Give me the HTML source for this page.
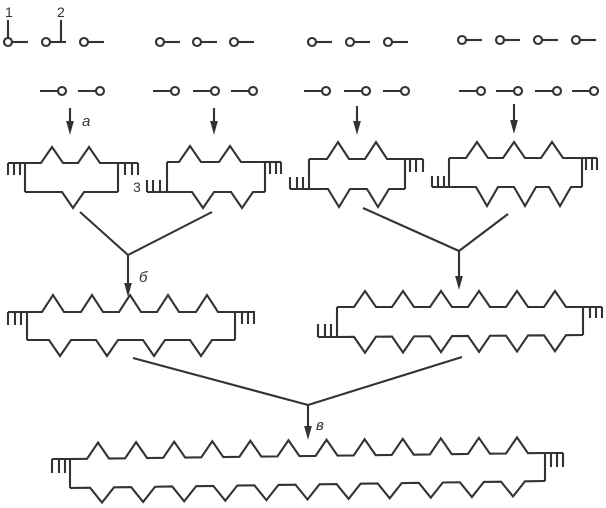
<!DOCTYPE html>
<html><head><meta charset="utf-8"><style>
html,body{margin:0;padding:0;background:#fff;}
svg{display:block;}
text{font-family:"Liberation Sans",sans-serif;fill:#333;}
</style></head><body>
<svg id="s" width="606" height="508" viewBox="0 0 606 508" xmlns="http://www.w3.org/2000/svg">
<g id="g" fill="none" stroke="#333" stroke-width="2.1" stroke-linejoin="miter"></g>
<text x="5" y="17" font-size="14">1</text>
<text x="57" y="17" font-size="14">2</text>
<text x="133" y="192" font-size="14">3</text>
<text x="82" y="126" font-size="15" font-style="italic">а</text>
<text x="139" y="282" font-size="15" font-style="italic">б</text>
<text x="316" y="430" font-size="15" font-style="italic">в</text>
</svg>
<script>
var g=document.getElementById('g');var NS='http://www.w3.org/2000/svg';
function el(t,a){var e=document.createElementNS(NS,t);for(var k in a)e.setAttribute(k,a[k]);g.appendChild(e);return e;}
function line(x1,y1,x2,y2){el('line',{x1:x1,y1:y1,x2:x2,y2:y2});}
function poly(p){el('polyline',{points:p.map(function(q){return q[0]+','+q[1]}).join(' ')});}
function zig(x0,y0,x1,y1,teeth,h,hw){var p=[[x0,y0]];function yb(x){return y0+(y1-y0)*(x-x0)/(x1-x0);}
teeth.forEach(function(t){p.push([t-hw,yb(t-hw)]);p.push([t,yb(t)+h]);p.push([t+hw,yb(t+hw)]);});p.push([x1,y1]);poly(p);}
function comb(x0,x1,y,tx,dy){line(x0,y,x1,y);tx.forEach(function(x){line(x,y,x,y+dy);});}
function arrow(x,y1,y2){line(x,y1,x,y2-6);var e=el('polygon',{points:(x-2.5)+','+(y2-9)+' '+(x+2.5)+','+(y2-9)+' '+x+','+y2,fill:'#333'});}
function dumbR(x,y){el('circle',{cx:x,cy:y,r:4,fill:'#fff'});line(x+4,y,x+20,y);}
function dumbL(x,y){el('circle',{cx:x,cy:y,r:4,fill:'#fff'});line(x-4,y,x-22,y);}
function seq(a,b,n){var r=[];for(var i=0;i<n;i++)r.push(a+(b-a)*i/(n-1));return r;}
[8,46,84,160,197,234,312,350,388].forEach(function(x){dumbR(x,42);});
[462,500,538,576].forEach(function(x){dumbR(x,40);});
line(8,20,8,38);line(61,20,61,42);
[62,100,175,215,253,326,366,405,481,518,557,594].forEach(function(x){dumbL(x,91);});
arrow(70,108,131);arrow(214,108,131);arrow(357,106,131);arrow(514,104,130);
zig(25,163,118,163,[52,89],-16,11);zig(25,192,118,192,[73],16,11);
line(25,163,25,192);line(118,163,118,192);
comb(8,25,163,[8,14,20],12);comb(118,138,163,[125,132,138],12);
zig(167,162,265,162,[190,230],-16,11);zig(167,192,265,192,[203,242],16,11);
line(167,162,167,192);line(265,162,265,192);
comb(147,167,192,[147,153,160],-12);comb(265,281,162,[270,276,281],12);
zig(309,159,405,159,[338,376],-17,11);zig(309,189,405,189,[339,378],18,11);
line(309,159,309,189);line(405,159,405,189);
comb(290,309,189,[290,297,303],-12);comb(405,423,159,[410,416,423],13);
zig(449,158,582,158,[477,514,552],-16,11);zig(449,187,582,187,[487,525,560],19,11);
line(449,158,449,187);line(582,158,582,187);
comb(432,449,187,[432,438,444],-11);comb(582,597,158,[586,592,597],12);
line(80,212,128,255);line(212,212,128,255);arrow(128,255,293);
line(363,208,459,251);line(508,214,459,251);arrow(459,251,286);
zig(27,312,235,312,[53,92,130,168,207],-17,11);zig(27,340,235,340,[60,107,154,201],16,11);
line(27,312,27,340);line(235,312,235,340);
comb(8,27,312,[8,15,21],13);comb(235,255,312,[242,248,254],12);
zig(337,307,583,307,seq(365,555,6),-16,11);zig(337,337,583,335,seq(365,555,6),16,11);
line(337,307,337,337);line(583,307,583,335);
comb(318,337,337,[318,325,331],-13);comb(583,602,307,[590,596,602],11);
line(133,358,308,405);line(462,357,308,405);arrow(308,405,436);
zig(70,459,545,453,seq(98,517,12),-16,11);zig(70,488,545,481,seq(102,513,11),15,12);
line(70,459,70,488);line(545,453,545,481);
comb(52,70,459,[52,59,65],14);comb(545,563,453,[551,557,563],14);
</script>
</body></html>
